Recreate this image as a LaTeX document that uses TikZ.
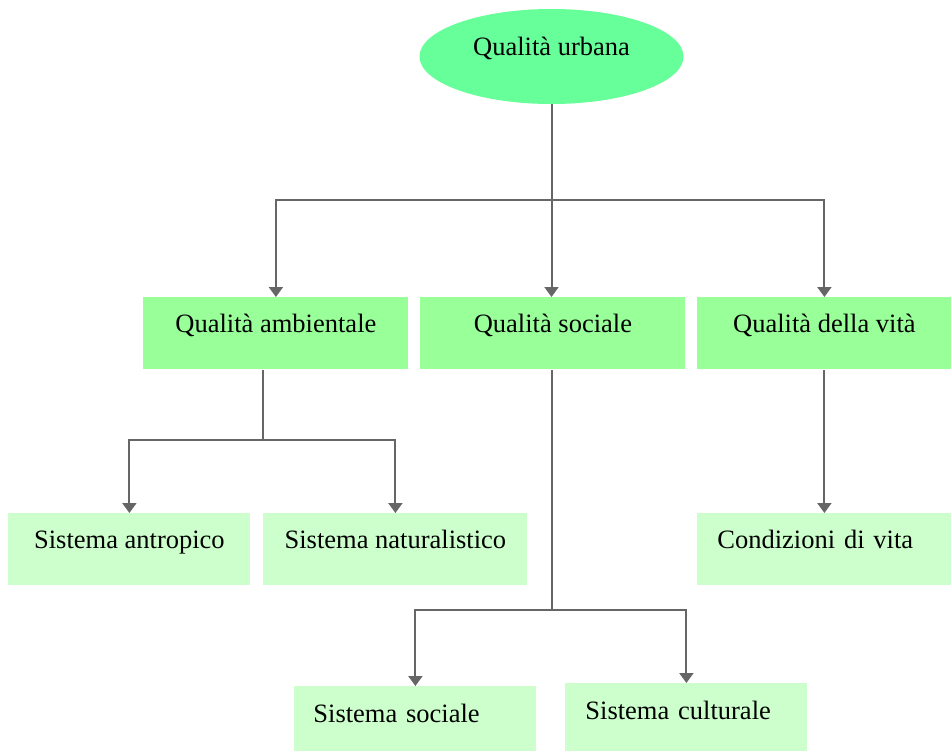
\documentclass[tikz,border=0pt]{standalone}
\usepackage{fontspec}
\setmainfont{Liberation Serif}
\usetikzlibrary{shapes.geometric,arrows.meta}
\definecolor{urbgreen}{HTML}{66FF99}
\definecolor{qualgreen}{HTML}{99FF99}
\definecolor{sysgreen}{HTML}{CCFFCC}
\definecolor{linegray}{HTML}{666666}
\tikzset{mytop/.style={ellipse,fill=urbgreen,inner sep=0pt,minimum width=132pt,minimum height=47.5pt,text height=8pt,text depth=9.5pt}}
\tikzset{myqual/.style={rectangle,fill=qualgreen,anchor=north west,inner sep=0pt,text height=17.5pt,text depth=18.5pt}}
\tikzset{mysys/.style={rectangle,fill=sysgreen,anchor=north west,inner sep=0pt,text height=17.5pt,text depth=18.5pt}}
\tikzset{mysysl/.style={mysys,align=left,inner xsep=10pt}}
\tikzset{myline/.style={draw=linegray,line width=1pt}}
\tikzset{myarrow/.style={myline,-{Triangle[width=7pt,length=5pt]}}}

\begin{document}
\begin{tikzpicture}[x=0.5pt,y=-0.5pt,font=\fontsize{13.25pt}{16pt}\selectfont]
            \useasboundingbox (0,0) rectangle (951,751);
            % setup the nodes
            \node[mytop] (urb) at (551.5,56.5) {Qualità urbana};
            \node[myqual,minimum width=132.5pt] (amb) at (143,297) {Qualità ambientale};
            \node[myqual,minimum width=132.5pt] (soc) at (420,297) {Qualità sociale};
            \node[myqual,minimum width=127pt] (vita) at (697,297) {Qualità della vità};
            \node[mysys,minimum width=121pt] (antr) at (8,513) {Sistema antropico};
            \node[mysys,minimum width=132pt] (nat) at (263,513) {Sistema naturalistico};
            \node[mysysl,text width=107pt] (cond) at (697,513) {Condizioni di vita};
            \node[mysysl,inner xsep=9.5pt,text width=102pt,text height=18pt,text depth=14.5pt] (ssoc) at (294,686) {Sistema sociale};
            \node[mysysl,text width=101pt,text height=18pt,text depth=16pt] (scul) at (565,683) {Sistema culturale};
            % branch points
            \coordinate (j1) at (551.5,200);
            \coordinate (j2) at (263,440);
            \coordinate (j3) at (551.5,610);
            % connect the nodes
            \draw[myline] (urb.south) -- (j1);
            \draw[myarrow] (j1) -| (amb.north);
            \draw[myarrow] (j1) -- (j1 |- soc.north);
            \draw[myarrow] (j1) -| (vita.north);
            \draw[myline] (amb.south -| j2) -- (j2);
            \draw[myarrow] (j2) -| (antr.north);
            \draw[myarrow] (j2) -| (nat.north);
            \draw[myline] (soc.south -| j3) -- (j3);
            \draw[myarrow] (j3) -| (ssoc.north);
            \draw[myarrow] (j3) -| (scul.north);
            \draw[myarrow] (vita) -- (cond);
        \end{tikzpicture}
\end{document}
